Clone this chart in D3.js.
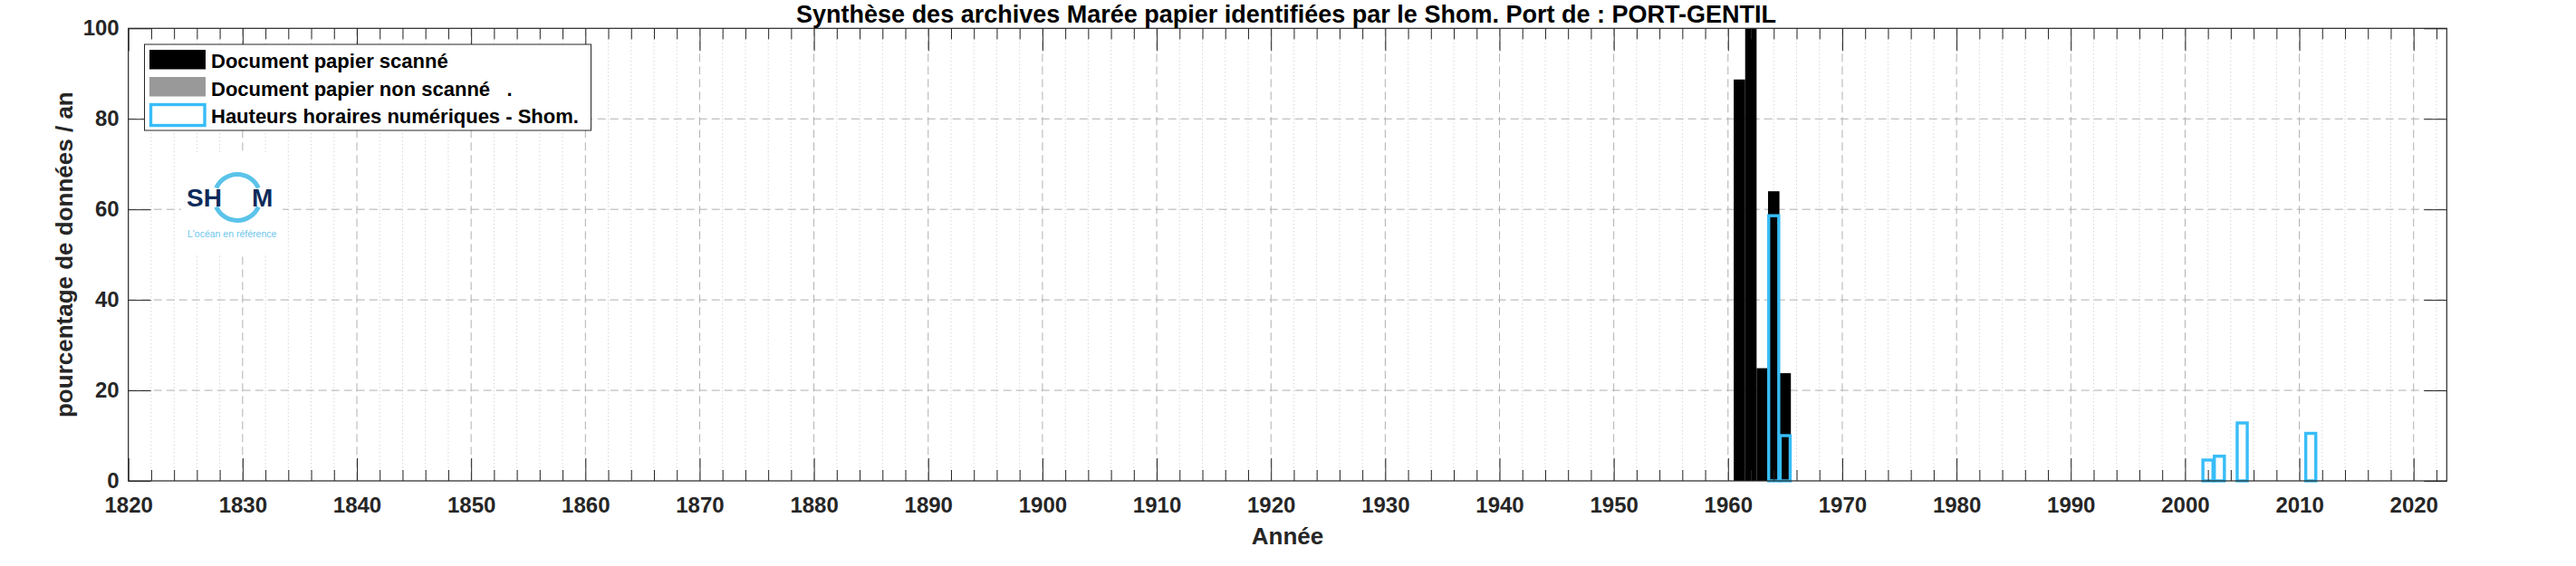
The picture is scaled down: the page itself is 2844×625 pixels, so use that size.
<!DOCTYPE html>
<html><head><meta charset="utf-8">
<script src="https://cdn.jsdelivr.net/npm/d3@7"></script>
<style>
body{margin:0;background:#fff;}
svg{display:block;font-family:"Liberation Sans",Arial,Helvetica,sans-serif;}
</style></head>
<body>
<svg id="chart" width="2844" height="625"></svg>
<script>
// ---- data ----
const scannedYears = [1961, 1962, 1963, 1964, 1965];
const scannedValues = [88.7, 100, 24.9, 64.0, 23.8];
const nonScannedYears = [];
const nonScannedValues = [];
const digitalYears = [1964, 1965, 2002, 2003, 2005, 2011];
const digitalValues = [58.6, 10.0, 4.6, 5.45, 12.8, 10.5];
const xMajorTicks = [1820,1830,1840,1850,1860,1870,1880,1890,1900,1910,1920,1930,1940,1950,1960,1970,1980,1990,2000,2010,2020];
const yTicks = [0, 20, 40, 60, 80, 100];
const legendLabels = ["Document papier scanné", "Document papier non scanné   .", "Hauteurs horaires numériques - Shom."];
const titleText = "Synthèse des archives Marée papier identifiées par le Shom. Port de : PORT-GENTIL";
const xLabel = "Année";
const yLabel = "pourcentage de données / an";

// ---- layout ----
const L = 141.7, R = 2701.3, T = 31.3, B = 531;
const BLUE = "#38bdf8", AX = "#262626";
const svg = d3.select("#chart");
const x = d3.scaleLinear().domain([1820, 2022.9]).range([L, R]);
const y = d3.scaleLinear().domain([0, 100]).range([B, T]);
const xMinorTicks = d3.range(1822, 2023, 2).filter(v => v % 10 !== 0);

// grid
const grid = svg.append("g");
grid.selectAll(".gmin").data(xMinorTicks).join("line")
  .attr("x1", d => x(d)).attr("x2", d => x(d)).attr("y1", T).attr("y2", B)
  .attr("stroke", "#c4c4c4").attr("stroke-width", 1).attr("stroke-dasharray", "1,3");
grid.selectAll(".gmaj").data(xMajorTicks.slice(1)).join("line")
  .attr("x1", d => x(d)).attr("x2", d => x(d)).attr("y1", T).attr("y2", B)
  .attr("stroke", "#b0b0b0").attr("stroke-width", 1).attr("stroke-dasharray", "9,5");
grid.selectAll(".gy").data(yTicks.slice(1, -1)).join("line")
  .attr("x1", L).attr("x2", R).attr("y1", d => y(d)).attr("y2", d => y(d))
  .attr("stroke", "#b0b0b0").attr("stroke-width", 1).attr("stroke-dasharray", "9,5");

// logo (white backing, covers grid)
const logo = svg.append("g");
logo.append("rect").attr("x", 200).attr("y", 168).attr("width", 112).attr("height", 112).attr("fill", "#fff");
const arc = d3.arc().innerRadius(23).outerRadius(28);
logo.append("path").attr("transform", "translate(262,218)")
  .attr("d", arc({startAngle: -1.15, endAngle: 1.15})).attr("fill", "#5bc3ea");
logo.append("path").attr("transform", "translate(262,218)")
  .attr("d", arc({startAngle: Math.PI - 1.15, endAngle: Math.PI + 1.15})).attr("fill", "#5bc3ea");
logo.append("text").attr("x", 206).attr("y", 228).attr("font-size", 28).attr("font-weight", "bold")
  .attr("fill", "#0d2b5b").text("SH");
logo.append("text").attr("x", 278).attr("y", 228).attr("font-size", 28).attr("font-weight", "bold")
  .attr("fill", "#0d2b5b").text("M");
logo.append("text").attr("x", 207).attr("y", 262).attr("font-size", 10.5)
  .attr("fill", "#6cc6ec").text("L'océan en référence");

// bars
const bw = x(1821) - x(1820);
svg.append("g").selectAll("rect").data(scannedYears.map((d, i) => ({yr: d, v: scannedValues[i]}))).join("rect")
  .attr("x", d => x(d.yr - 0.5)).attr("width", bw)
  .attr("y", d => y(d.v)).attr("height", d => y(0) - y(d.v)).attr("fill", "#000");
svg.append("g").selectAll("rect").data(nonScannedYears.map((d, i) => ({yr: d, v: nonScannedValues[i]}))).join("rect")
  .attr("x", d => x(d.yr - 0.5)).attr("width", bw)
  .attr("y", d => y(d.v)).attr("height", d => y(0) - y(d.v)).attr("fill", "#999");
const dw = 0.88;
svg.append("g").selectAll("rect").data(digitalYears.map((d, i) => ({yr: d, v: digitalValues[i]}))).join("rect")
  .attr("x", d => x(d.yr - dw / 2)).attr("width", x(1820 + dw) - x(1820))
  .attr("y", d => y(d.v)).attr("height", d => y(0) - y(d.v))
  .attr("fill", "none").attr("stroke", BLUE).attr("stroke-width", 3.4);

// axes
function styleAxis(g) {
  g.select(".domain").remove();
  g.selectAll("line").attr("stroke", AX);
  g.selectAll("text").attr("fill", AX).attr("font-size", 24).attr("font-weight", "bold");
}
svg.append("g").attr("transform", `translate(0,${B})`)
  .call(d3.axisBottom(x).tickValues(xMajorTicks).tickSize(-25).tickPadding(18).tickFormat(d3.format("d"))).call(styleAxis);
svg.append("g").attr("transform", `translate(0,${B})`)
  .call(d3.axisBottom(x).tickValues(xMinorTicks).tickSize(-12).tickFormat("")).call(styleAxis);
svg.append("g").attr("transform", `translate(0,${T})`)
  .call(d3.axisTop(x).tickValues(xMajorTicks).tickSize(-25).tickFormat("")).call(styleAxis);
svg.append("g").attr("transform", `translate(0,${T})`)
  .call(d3.axisTop(x).tickValues(xMinorTicks).tickSize(-12).tickFormat("")).call(styleAxis);
svg.append("g").attr("transform", `translate(${L},0)`)
  .call(d3.axisLeft(y).tickValues(yTicks).tickSize(-25).tickPadding(10)).call(styleAxis);
svg.append("g").attr("transform", `translate(${R},0)`)
  .call(d3.axisRight(y).tickValues(yTicks).tickSize(-25).tickFormat("")).call(styleAxis);
svg.append("rect").attr("x", L).attr("y", T).attr("width", R - L).attr("height", B - T)
  .attr("fill", "none").attr("stroke", AX).attr("stroke-width", 1.2);

// legend
const lg = svg.append("g");
lg.append("rect").attr("x", 159.5).attr("y", 49).attr("width", 493).attr("height", 95)
  .attr("fill", "#fff").attr("stroke", AX).attr("stroke-width", 1);
const swFill = ["#000", "#999", "none"];
legendLabels.forEach((lab, i) => {
  const yy = 55 + i * 30;
  if (i < 2) {
    lg.append("rect").attr("x", 165).attr("y", yy).attr("width", 62).attr("height", 21.5).attr("fill", swFill[i]);
  } else {
    lg.append("rect").attr("x", 166.5).attr("y", yy + 0.5).attr("width", 59.5).attr("height", 23)
      .attr("fill", "#fff").attr("stroke", BLUE).attr("stroke-width", 3.4);
  }
  lg.append("text").attr("x", 233).attr("y", 75 + i * 30.5).attr("font-size", 22).attr("font-weight", "bold")
    .attr("fill", "#000").style("white-space", "pre").attr("xml:space", "preserve").text(lab);
});

// texts
svg.append("text").attr("x", 1420).attr("y", 25).attr("text-anchor", "middle")
  .attr("font-size", 27).attr("font-weight", "bold").attr("fill", "#000").text(titleText);
svg.append("text").attr("x", (L + R) / 2).attr("y", 601).attr("text-anchor", "middle")
  .attr("font-size", 26).attr("font-weight", "bold").attr("fill", AX).text(xLabel);
svg.append("text").attr("transform", `translate(80,${(T + B) / 2}) rotate(-90)`).attr("text-anchor", "middle")
  .attr("font-size", 26).attr("font-weight", "bold").attr("fill", AX).text(yLabel);
</script>
</body></html>
